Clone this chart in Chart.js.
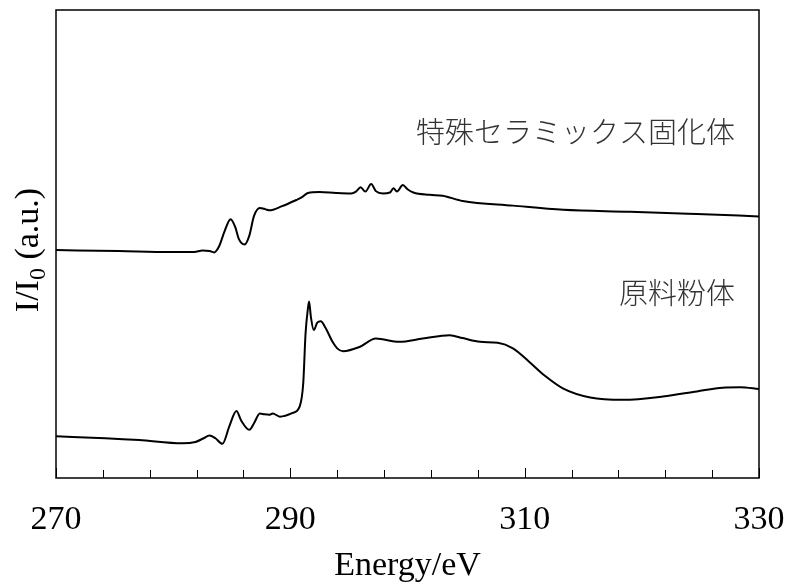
<!DOCTYPE html>
<html>
<head>
<meta charset="utf-8">
<script src="https://cdn.jsdelivr.net/npm/chart.js@4/dist/chart.umd.min.js"></script>
<style>
  html, body { margin: 0; padding: 0; background: #fff; }
  #wrap { width: 791px; height: 586px; }
</style>
</head>
<body>
<div id="wrap"><canvas id="xas" width="791" height="586"></canvas></div>
<script>
// energy axis (eV) and intensity (a.u.)
const upperE = [270.0, 275.4, 279.7, 281.8, 282.5, 283.1, 283.5, 283.9, 284.4, 284.9, 285.3, 285.6, 286.1, 286.5, 286.9, 287.4, 287.9, 288.2, 289.3, 290.5, 291.0, 291.5, 292.5, 293.9, 295.2, 295.6, 296.0, 296.4, 296.9, 297.3, 297.9, 298.5, 298.8, 299.1, 299.6, 300.0, 300.5, 301.9, 303.0, 304.7, 309.0, 313.3, 319.0, 324.7, 330.0];
const upperI = [48.7, 48.5, 48.3, 48.3, 48.6, 48.5, 48.2, 49.4, 52.8, 55.3, 53.6, 51.1, 49.9, 51.8, 56.0, 57.7, 57.4, 57.2, 58.1, 59.4, 60.0, 60.9, 61.1, 60.9, 60.8, 61.2, 62.1, 61.2, 62.8, 61.3, 60.8, 61.0, 61.9, 61.2, 62.6, 61.7, 61.0, 60.5, 60.3, 59.2, 58.2, 57.3, 56.9, 56.4, 55.9];

const lowerE = [270.0, 274.2, 277.1, 280.8, 281.9, 282.6, 283.1, 283.6, 284.2, 284.8, 285.4, 285.8, 286.5, 286.9, 287.4, 287.8, 288.2, 288.5, 289.1, 290.2, 290.8, 291.1, 291.3, 291.5, 291.6, 291.75, 292.0, 292.3, 292.6, 293.0, 293.6, 294.0, 294.5, 295.9, 297.3, 299.3, 301.3, 303.6, 304.7, 306.2, 307.7, 309.0, 310.4, 311.7, 313.3, 315.6, 318.4, 321.8, 324.7, 326.9, 328.4, 330.0];
const lowerI = [8.9, 8.5, 8.1, 7.4, 7.7, 8.5, 9.1, 8.5, 7.3, 11.1, 14.3, 12.3, 10.3, 11.7, 13.8, 13.6, 13.5, 13.8, 13.1, 13.9, 15.3, 20.2, 30.9, 36.2, 37.7, 34.5, 31.6, 33.2, 33.5, 32.1, 29.1, 27.7, 27.1, 28.0, 29.8, 29.1, 29.8, 30.5, 29.9, 29.1, 28.9, 27.7, 24.8, 21.9, 19.1, 17.2, 16.7, 17.4, 18.5, 19.3, 19.4, 19.0];

const xTicks = [270, 290, 310, 330];
const labels = ['特殊セラミックス固化体', '原料粉体'];

const SERIF = '"Liberation Serif", "Times New Roman", serif';
const JP = '"Noto Sans CJK JP", sans-serif';

const pts = (xs, ys) => xs.map((x, i) => ({ x, y: ys[i] }));

// frame, inward ticks, y title with subscript, curve labels
const decor = {
  id: 'decor',
  afterDraw(chart) {
    const { ctx, chartArea: a, scales: { x } } = chart;
    ctx.save();
    ctx.strokeStyle = '#000';
    ctx.lineWidth = 1.5;
    ctx.strokeRect(a.left, a.top, a.right - a.left, a.bottom - a.top);

    ctx.lineWidth = 1;
    for (let e = 270; e <= 330; e += 4) {
      const px = Math.round(x.getPixelForValue(e)) + 0.5;
      const len = e % 20 === 10 ? 10 : 8;
      ctx.beginPath();
      ctx.moveTo(px, a.bottom);
      ctx.lineTo(px, a.bottom - len);
      ctx.stroke();
    }

    // y axis title: I/I0 (a.u.)
    ctx.translate(27, 250);
    ctx.rotate(-Math.PI / 2);
    ctx.fillStyle = '#000';
    ctx.textBaseline = 'alphabetic';
    const big = '34px ' + SERIF, small = '24px ' + SERIF;
    ctx.font = big;
    const w1 = ctx.measureText('I/I').width;
    ctx.font = small;
    const w2 = ctx.measureText('0').width;
    ctx.font = big;
    const w3 = ctx.measureText(' (a.u.)').width;
    let cx = -(w1 + w2 + w3) / 2;
    ctx.fillText('I/I', cx, 11);
    cx += w1;
    ctx.font = small;
    ctx.fillText('0', cx, 18);
    cx += w2;
    ctx.font = big;
    ctx.fillText(' (a.u.)', cx, 11);
    ctx.restore();

    ctx.save();
    ctx.fillStyle = '#333';
    ctx.font = '300 29px ' + JP;
    ctx.textAlign = 'right';
    ctx.textBaseline = 'middle';
    ctx.fillText(labels[0], 735, 132);
    ctx.fillText(labels[1], 735, 293);
    ctx.restore();
  }
};

new Chart(document.getElementById('xas'), {
  type: 'line',
  data: {
    datasets: [
      { label: labels[0], data: pts(upperE, upperI) },
      { label: labels[1], data: pts(lowerE, lowerI) }
    ]
  },
  options: {
    responsive: false,
    animation: false,
    layout: { autoPadding: false, padding: { top: 10, right: 32, left: 0, bottom: 0 } },
    elements: {
      point: { radius: 0 },
      line: { borderColor: '#000', borderWidth: 2, cubicInterpolationMode: 'monotone', fill: false }
    },
    plugins: { legend: { display: false }, tooltip: { enabled: false } },
    scales: {
      x: {
        type: 'linear', min: 270, max: 330,
        afterBuildTicks: s => { s.ticks = xTicks.map(v => ({ value: v })); },
        afterFit: s => { s.height = 108; s.paddingLeft = 0; s.paddingRight = 0; },
        grid: { display: false, drawTicks: false },
        border: { display: false },
        ticks: { color: '#000', font: { family: SERIF, size: 34 }, padding: 22, maxRotation: 0 },
        title: { display: true, text: 'Energy/eV', color: '#000', font: { family: SERIF, size: 34 }, padding: { top: 0, bottom: 0 } }
      },
      y: {
        min: 0, max: 100,
        afterFit: s => { s.width = 56; },
        grid: { display: false, drawTicks: false },
        border: { display: false },
        ticks: { display: false }
      }
    }
  },
  plugins: [decor]
});
</script>
</body>
</html>
